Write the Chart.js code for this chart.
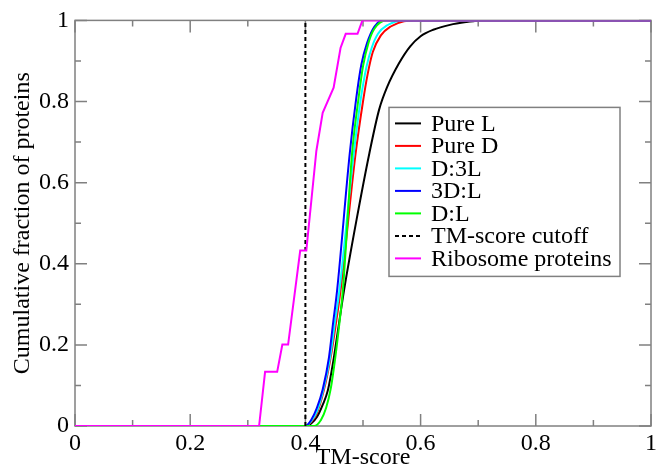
<!DOCTYPE html>
<html lang="en">
<head>
<meta charset="UTF-8">
<title>Cumulative TM-score distribution</title>
<script src="https://cdn.jsdelivr.net/npm/chart.js@4.4.0/dist/chart.umd.min.js"></script>
<style>
  html, body { margin: 0; padding: 0; background: #fff; }
</style>
</head>
<body>
<canvas id="tmChart" width="660" height="472"></canvas>

<script>
  // cumulative fraction curves, [TM-score, fraction]
  const pureL = [[0, 0], [0.40, 0], [0.41, 0.006], [0.42, 0.022], [0.43, 0.052], [0.439, 0.088], [0.449, 0.165],
    [0.458, 0.25], [0.467, 0.334], [0.489, 0.51], [0.511, 0.672], [0.528, 0.78], [0.542, 0.836],
    [0.562, 0.893], [0.582, 0.936], [0.600, 0.961], [0.622, 0.977], [0.651, 0.989], [0.680, 0.996],
    [0.705, 1], [1, 1]];
  const pureD = [[0, 0], [0.40, 0], [0.41, 0.01], [0.42, 0.032], [0.432, 0.088], [0.444, 0.17], [0.453, 0.253],
    [0.461, 0.334], [0.487, 0.67], [0.500, 0.8], [0.508, 0.867], [0.517, 0.922], [0.531, 0.963],
    [0.548, 0.985], [0.571, 0.998], [0.59, 1], [1, 1]];
  const d3L = [[0, 0], [0.40, 0], [0.41, 0.012], [0.42, 0.036], [0.431, 0.088], [0.443, 0.17], [0.451, 0.253],
    [0.459, 0.334], [0.484, 0.672], [0.496, 0.805], [0.506, 0.885], [0.515, 0.932], [0.526, 0.967],
    [0.542, 0.988], [0.57, 1], [1, 1]];
  const d3DL = [[0, 0], [0.40, 0], [0.41, 0.015], [0.42, 0.045], [0.43, 0.09], [0.441, 0.17], [0.448, 0.253],
    [0.455, 0.334], [0.477, 0.672], [0.488, 0.805], [0.497, 0.89], [0.507, 0.944], [0.52, 0.985],
    [0.535, 1], [1, 1]];
  const dL = [[0, 0], [0.415, 0], [0.427, 0.015], [0.436, 0.045], [0.444, 0.092], [0.452, 0.17], [0.459, 0.253],
    [0.465, 0.334], [0.481, 0.672], [0.492, 0.805], [0.500, 0.887], [0.510, 0.947], [0.52, 0.98],
    [0.54, 1], [1, 1]];
  const ribosome = [[0, 0], [0.3196, 0], [0.330, 0.1335], [0.351, 0.1335], [0.360, 0.2007], [0.370, 0.2007],
    [0.391, 0.4324], [0.4016, 0.4324], [0.419, 0.678], [0.430, 0.772], [0.449, 0.834], [0.461, 0.932],
    [0.470, 0.967], [0.4905, 0.967], [0.499, 1], [1, 1]];
  const cutoff = [[0.4, 0], [0.4, 1]];

  const majorTicks = [0, 0.2, 0.4, 0.6, 0.8, 1];
  const minorTicks = [0.1, 0.3, 0.5, 0.7, 0.9];

  const serif = { family: "'Liberation Serif', 'Times New Roman', serif", size: 24 };
  const pts = arr => arr.map(([x, y]) => ({ x, y }));

  function curve(label, data, color, order) {
    return {
      label, data: pts(data), borderColor: color, backgroundColor: color,
      borderWidth: 2, pointRadius: 0, cubicInterpolationMode: 'monotone', order
    };
  }

  // frame round the plot, with inward ticks on all four sides
  const frameTicks = {
    id: 'frameTicks',
    beforeDatasetsDraw(chart) {
      const { ctx, chartArea: a, scales: { x, y } } = chart;
      ctx.save();
      ctx.strokeStyle = '#808080';
      ctx.lineWidth = 1.5;
      ctx.strokeRect(a.left, a.top, a.right - a.left, a.bottom - a.top);
      ctx.beginPath();
      const mark = (v, len) => {
        const px = x.getPixelForValue(v), py = y.getPixelForValue(v);
        ctx.moveTo(px, a.bottom); ctx.lineTo(px, a.bottom - len);
        ctx.moveTo(px, a.top); ctx.lineTo(px, a.top + len);
        ctx.moveTo(a.left, py); ctx.lineTo(a.left + len, py);
        ctx.moveTo(a.right, py); ctx.lineTo(a.right - len, py);
      };
      majorTicks.forEach(v => mark(v, 12));
      minorTicks.forEach(v => mark(v, 6));
      ctx.stroke();
      ctx.restore();
    }
  };

  // boxed legend inside the plot area
  const legendOrder = ['Pure L', 'Pure D', 'D:3L', '3D:L', 'D:L', 'TM-score cutoff', 'Ribosome proteins'];
  const boxLegend = {
    id: 'boxLegend',
    afterDraw(chart) {
      const { ctx, chartArea: a } = chart;
      const left = a.right - 262, top = a.top + 87, w = 231, h = 169;
      ctx.save();
      ctx.fillStyle = '#fff';
      ctx.fillRect(left, top, w, h);
      ctx.strokeStyle = '#808080';
      ctx.lineWidth = 1.5;
      ctx.strokeRect(left, top, w, h);
      ctx.font = `${serif.size}px ${serif.family}`;
      ctx.textBaseline = 'middle';
      ctx.fillStyle = '#000';
      legendOrder.forEach((name, i) => {
        const ds = chart.data.datasets.find(d => d.label === name);
        const cy = top + 16 + i * 22.5;
        ctx.beginPath();
        ctx.strokeStyle = ds.borderColor;
        ctx.lineWidth = 2;
        ctx.setLineDash(ds.borderDash || []);
        ctx.moveTo(left + 6, cy);
        ctx.lineTo(left + 32, cy);
        ctx.stroke();
        ctx.setLineDash([]);
        ctx.fillText(name, left + 42, cy + 1);
      });
      ctx.restore();
    }
  };

  const tickText = v => String(+v.toFixed(1));

  new Chart(document.getElementById('tmChart'), {
    type: 'line',
    data: {
      datasets: [
        curve('Pure L', pureL, '#000000', 6),
        curve('Pure D', pureD, '#ff0000', 5),
        curve('D:3L', d3L, '#00ffff', 4),
        curve('3D:L', d3DL, '#0000ff', 3),
        curve('D:L', dL, '#00ff00', 2),
        { label: 'TM-score cutoff', data: pts(cutoff), borderColor: '#000000', borderWidth: 2,
          borderDash: [4, 3], pointRadius: 0, tension: 0, order: 1 },
        { label: 'Ribosome proteins', data: pts(ribosome), borderColor: '#ff00ff', borderWidth: 2,
          pointRadius: 0, tension: 0, order: 0 }
      ]
    },
    options: {
      responsive: false,
      animation: false,
      layout: { padding: { top: 19, right: 4, left: 0, bottom: 0 }, autoPadding: false },
      plugins: { legend: { display: false }, tooltip: { enabled: false } },
      scales: {
        x: {
          type: 'linear', min: 0, max: 1,
          grid: { display: false, drawTicks: false }, border: { display: false },
          afterBuildTicks: s => { s.ticks = majorTicks.map(value => ({ value })); },
          ticks: { color: '#000', font: serif, padding: 3, maxRotation: 0, autoSkip: false, callback: tickText },
          title: { display: true, text: 'TM-score', color: '#000', font: serif, padding: 0 },
          afterFit: s => { s.height = 46; }
        },
        y: {
          type: 'linear', min: 0, max: 1,
          grid: { display: false, drawTicks: false }, border: { display: false },
          afterBuildTicks: s => { s.ticks = majorTicks.map(value => ({ value })); },
          ticks: { color: '#000', font: serif, padding: 6, autoSkip: false, callback: tickText },
          title: { display: true, text: 'Cumulative fraction of proteins', color: '#000', font: serif,
                   padding: { top: 8, bottom: 0 } },
          afterFit: s => { s.width = 75; }
        }
      }
    },
    plugins: [frameTicks, boxLegend]
  });
</script>
</body>
</html>
